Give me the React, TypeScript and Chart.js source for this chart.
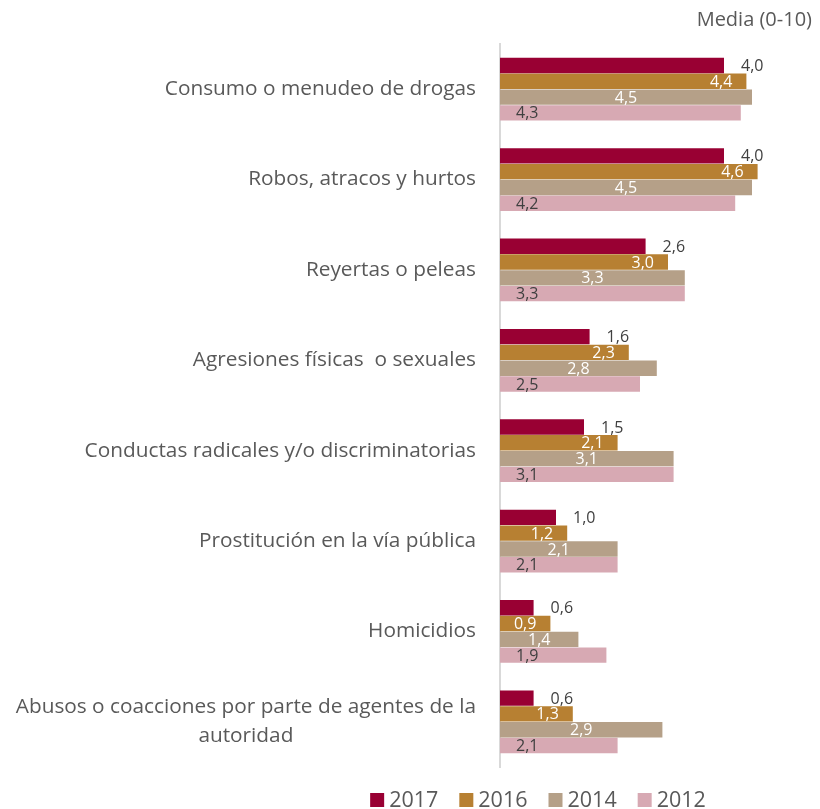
import React, { useEffect, useRef } from 'react';
import { Chart, registerables } from 'chart.js';

Chart.register(...registerables);

const categories: (string | string[])[] = [
  'Consumo o menudeo de drogas',
  'Robos, atracos y hurtos',
  'Reyertas o peleas',
  'Agresiones físicas  o sexuales',
  'Conductas radicales y/o discriminatorias',
  'Prostitución en la vía pública',
  'Homicidios',
  ['Abusos o coacciones por parte de agentes de la', 'autoridad'],
];
const years = ['2017', '2016', '2014', '2012'];
const v2017 = [4.0, 4.0, 2.6, 1.6, 1.5, 1.0, 0.6, 0.6];
const v2016 = [4.4, 4.6, 3.0, 2.3, 2.1, 1.2, 0.9, 1.3];
const v2014 = [4.5, 4.5, 3.3, 2.8, 3.1, 2.1, 1.4, 2.9];
const v2012 = [4.3, 4.2, 3.3, 2.5, 3.1, 2.1, 1.9, 2.1];
const seriesValues = [v2017, v2016, v2014, v2012];
const colors = ['#990033', '#b78032', '#b5a088', '#d7a9b3'];
const labelModes = ['outside', 'insideEnd', 'center', 'insideStart'];
const labelColors = ['#404040', '#ffffff', '#ffffff', '#404040'];
const unitLabel = 'Media (0-10)';
const xMax = 5;

const FONT = "'Open Sans', sans-serif";
const TEXT = '#595959';

const fmt = (v: number) => v.toFixed(1).replace('.', ',');

const customPlugin = {
  id: 'custom',
  afterDatasetsDraw(chart: any) {
    const ctx = chart.ctx;
    ctx.save();
    ctx.font = `16px ${FONT}`;
    ctx.textBaseline = 'middle';
    chart.data.datasets.forEach((ds: any, di: number) => {
      const meta = chart.getDatasetMeta(di);
      meta.data.forEach((el: any, i: number) => {
        const v = ds.data[i] as number;
        const mode = labelModes[di];
        let x = el.x;
        let align: CanvasTextAlign = 'left';
        if (mode === 'outside') { x = el.x + 17; align = 'left'; }
        else if (mode === 'insideEnd') { x = el.x - 14; align = 'right'; }
        else if (mode === 'center') { x = (el.x + el.base) / 2; align = 'center'; }
        else { x = el.base + 16; align = 'left'; }
        ctx.textAlign = align;
        ctx.fillStyle = labelColors[di];
        ctx.fillText(fmt(v), x, el.y + 1);
      });
    });
    ctx.restore();
  },
  afterDraw(chart: any) {
    const ctx = chart.ctx;
    const area = chart.chartArea;
    const yScale = chart.scales.y;
    ctx.save();
    // category labels
    ctx.font = `20.8px ${FONT}`;
    ctx.fillStyle = TEXT;
    ctx.textBaseline = 'middle';
    const rightX = area.left - 24;
    categories.forEach((c, i) => {
      const y = yScale.getPixelForValue(i);
      if (Array.isArray(c)) {
        const lh = 29;
        const widths = c.map((l) => ctx.measureText(l).width);
        const maxW = Math.max(...widths);
        const cx = rightX - maxW / 2;
        ctx.textAlign = 'center';
        c.forEach((l, li) => {
          ctx.fillText(l, cx, y + (li - (c.length - 1) / 2) * lh);
        });
      } else {
        ctx.textAlign = 'right';
        ctx.fillText(c, rightX, y);
      }
    });
    // unit label
    ctx.font = `20px ${FONT}`;
    ctx.textAlign = 'right';
    ctx.fillText(unitLabel, chart.width - 8, 20);
    // legend
    ctx.font = `21.5px ${FONT}`;
    ctx.textAlign = 'left';
    const box = 14;
    const gapText = 5;
    const gapItem = 21;
    const widths = years.map((y) => ctx.measureText(y).width);
    const total = widths.reduce((a, w) => a + box + gapText + w, 0) + gapItem * (years.length - 1);
    let x = 538 - total / 2;
    const ly = 800;
    years.forEach((yr, i) => {
      ctx.fillStyle = colors[i];
      ctx.fillRect(x, ly - box / 2, box, box);
      ctx.fillStyle = TEXT;
      ctx.fillText(yr, x + box + gapText, ly + 1);
      x += box + gapText + widths[i] + gapItem;
    });
    ctx.restore();
  },
};

export default function App() {
  const ref = useRef<HTMLCanvasElement | null>(null);
  useEffect(() => {
    if (!ref.current) return;
    const chart = new Chart(ref.current, {
      type: 'bar',
      data: {
        labels: categories.map((c) => (Array.isArray(c) ? c.join(' ') : c)),
        datasets: years.map((y, i) => ({
          label: y,
          data: seriesValues[i],
          backgroundColor: colors[i],
          borderWidth: 0,
          categoryPercentage: 0.7,
          barPercentage: 0.97,
        })),
      },
      options: {
        indexAxis: 'y',
        responsive: false,
        animation: false,
        layout: { padding: { left: 0, right: 40, top: 44, bottom: 42 } },
        plugins: {
          legend: { display: false },
          tooltip: { enabled: false },
          title: { display: false },
        },
        scales: {
          x: {
            display: false,
            min: 0,
            max: xMax,
          },
          y: {
            type: 'category',
            grid: { display: false },
            border: { display: true, color: '#d9d9d9', width: 2 },
            ticks: { display: false },
            afterFit: (s: any) => { s.width = 500; },
          },
        },
      },
      plugins: [customPlugin],
    });
    return () => chart.destroy();
  }, []);
  return (
    <div style={{ position: 'absolute', left: 0, top: 0, width: 820, height: 809, background: '#ffffff' }}>
      <canvas ref={ref} width={820} height={809} style={{ display: 'block' }} />
    </div>
  );
}
